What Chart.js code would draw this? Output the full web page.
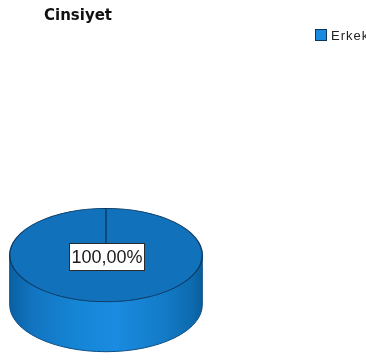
<!DOCTYPE html>
<html>
<head>
<meta charset="utf-8">
<script src="https://cdn.jsdelivr.net/npm/chart.js@4/dist/chart.umd.min.js"></script>
<style>
  html, body { margin: 0; padding: 0; background: #fff; overflow: hidden; }
  #wrap { width: 366px; height: 364px; position: relative; }
</style>
</head>
<body>
<div id="wrap"><canvas id="c" width="366" height="364"></canvas></div>
<script>
// Gender breakdown (counts per category)
const title = 'Cinsiyet';
const categories = ['Erkek'];
const counts = [100];
const sliceColors = ['#1271bb'];
const legendColors = ['#1a89e0'];

// Vertical squash of the pie face and the height of the drum side
const tilt = 0.485;
const depth = 50;

const formatPct = v => v.toFixed(2).replace('.', ',') + '%';

const pie3d = {
  id: 'pie3d',
  beforeDatasetsDraw(chart) {
    const ctx = chart.ctx;
    const arc = chart.getDatasetMeta(0).data[0];
    if (!arc) return;
    const cx = arc.x, cy = arc.y, rx = arc.outerRadius, ry = rx * tilt;

    // drum side, drawn below the face
    ctx.save();
    const g = ctx.createLinearGradient(cx - rx, 0, cx + rx, 0);
    g.addColorStop(0, '#0a60a3');
    g.addColorStop(0.12, '#1274c0');
    g.addColorStop(0.35, '#1586d6');
    g.addColorStop(0.55, '#1a8be0');
    g.addColorStop(0.8, '#137bc8');
    g.addColorStop(0.95, '#0d6aae');
    g.addColorStop(1, '#0a5d9c');
    ctx.beginPath();
    ctx.moveTo(cx + rx, cy);
    ctx.lineTo(cx + rx, cy + depth);
    ctx.ellipse(cx, cy + depth, rx, ry, 0, 0, Math.PI, false);
    ctx.lineTo(cx - rx, cy);
    ctx.ellipse(cx, cy, rx, ry, 0, Math.PI, 0, true);
    ctx.closePath();
    ctx.fillStyle = g;
    ctx.fill();
    ctx.lineWidth = 1;
    ctx.strokeStyle = '#0b4f85';
    ctx.stroke();
    ctx.restore();

    // squash the face into an ellipse
    ctx.save();
    ctx.translate(cx, cy);
    ctx.scale(1, tilt);
    ctx.translate(-cx, -cy);
  },
  afterDatasetsDraw(chart) {
    const ctx = chart.ctx;
    ctx.restore();
    const meta = chart.getDatasetMeta(0);
    const arc = meta.data[0];
    if (!arc) return;
    const data = chart.data.datasets[0].data;
    const total = data.reduce((a, b) => a + b, 0);

    // value label on the face
    const text = formatPct(data[0] / total * 100);
    ctx.save();
    ctx.font = '18px "Liberation Sans", Arial, sans-serif';
    const w = ctx.measureText(text).width;
    const bw = Math.round(w + 4), bh = 27;
    const bx = Math.round(arc.x - bw / 2) + 0.5, by = Math.round(arc.y - 12) + 0.5;
    ctx.fillStyle = '#ffffff';
    ctx.fillRect(bx, by, bw, bh);
    ctx.strokeStyle = '#2a2a2a';
    ctx.lineWidth = 1;
    ctx.strokeRect(bx, by, bw, bh);
    ctx.fillStyle = '#1a1a1a';
    ctx.textAlign = 'center';
    ctx.textBaseline = 'middle';
    ctx.fillText(text, bx + bw / 2, by + bh / 2 + 1);
    ctx.restore();
  },
  afterDraw(chart) {
    const ctx = chart.ctx;
    ctx.save();
    // title
    ctx.font = 'bold 15px "DejaVu Sans", sans-serif';
    ctx.fillStyle = '#111';
    ctx.textBaseline = 'alphabetic';
    ctx.fillText(title, 44, 20);
    // legend
    chart.data.labels.forEach((lab, i) => {
      const y = 29 + i * 17;
      ctx.fillStyle = legendColors[i];
      ctx.fillRect(315.5, y + 0.5, 11, 11);
      ctx.strokeStyle = '#0b3559';
      ctx.lineWidth = 1;
      ctx.strokeRect(315.5, y + 0.5, 11, 11);
      ctx.font = '13px "Liberation Sans", Arial, sans-serif';
      ctx.letterSpacing = '1px';
      ctx.fillStyle = '#222';
      ctx.fillText(lab, 331, y + 11);
      ctx.letterSpacing = '0px';
    });
    ctx.restore();
  }
};

new Chart(document.getElementById('c'), {
  type: 'pie',
  data: {
    labels: categories,
    datasets: [{
      data: counts,
      backgroundColor: sliceColors,
      borderColor: '#0b3a63',
      borderWidth: 1.4,
      hoverOffset: 0
    }]
  },
  options: {
    responsive: false,
    animation: false,
    events: [],
    layout: { padding: { left: 9, right: 163, top: 158, bottom: 12 } },
    plugins: {
      legend: { display: false },
      title: { display: false },
      tooltip: { enabled: false }
    }
  },
  plugins: [pie3d]
});
</script>
</body>
</html>
